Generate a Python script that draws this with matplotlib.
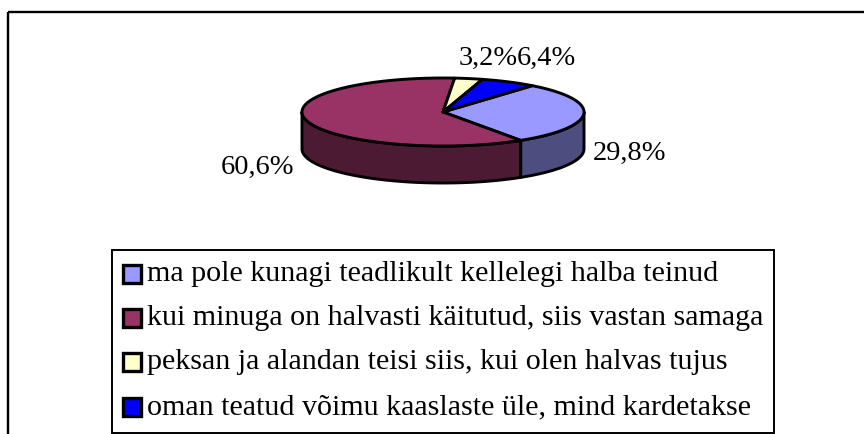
import numpy as np
import matplotlib
matplotlib.use("Agg")
import matplotlib.pyplot as plt
from matplotlib.patches import Polygon, Rectangle

categories = [
    "ma pole kunagi teadlikult kellelegi halba teinud",
    "kui minuga on halvasti käitutud, siis vastan samaga",
    "peksan ja alandan teisi siis, kui olen halvas tujus",
    "oman teatud võimu kaaslaste üle, mind kardetakse",
]
values = [29.8, 60.6, 3.2, 6.4]
top_colors = ["#9999FF", "#993366", "#FFFFCC", "#0000FF"]
side_colors = ["#4D4D80", "#4D1A33", "#80806A", "#000080"]

FONT = ["Liberation Serif", "DejaVu Serif"]

fig = plt.figure(figsize=(8.64, 4.34), dpi=100)
ax = fig.add_axes([0, 0, 1, 1])
ax.set_xlim(0, 864)
ax.set_ylim(434, 0)
ax.axis("off")

# outer chart frame (cut by image edges at right/bottom)
ax.add_patch(Rectangle((7.5, 12), 900, 500, fill=False, edgecolor="black", lw=1.7))

# 3D pie geometry (pixel coordinates)
cx, cy, a, b, depth = 443, 112, 141, 34, 37
start = 50.7
lw = 2.1

vals = np.array(values, dtype=float)
frac = vals / vals.sum()
cum = np.concatenate([[0], np.cumsum(frac)])
bounds = start - cum * 360.0  # clockwise


def pt(theta, dy=0.0):
    t = np.deg2rad(theta)
    return cx + a * np.cos(t), cy - b * np.sin(t) + dy


# side walls (front half only)
for i in range(len(vals)):
    t0, t1 = bounds[i], bounds[i + 1]  # t0 > t1
    lo, hi = t1, t0
    for k in (-2, -1, 0, 1):
        flo, fhi = -180 + 360 * k, 0 + 360 * k
        s, e = max(lo, flo), min(hi, fhi)
        if e - s > 1e-6:
            th = np.linspace(s, e, 120)
            top = [pt(t) for t in th]
            bot = [pt(t, depth) for t in th[::-1]]
            ax.add_patch(Polygon(top + bot, closed=True, facecolor=side_colors[i],
                                 edgecolor="black", lw=lw, joinstyle="round"))

# top faces
for i in range(len(vals)):
    t0, t1 = bounds[i], bounds[i + 1]
    th = np.linspace(t0, t1, 200)
    verts = [(cx, cy)] + [pt(t) for t in th]
    ax.add_patch(Polygon(verts, closed=True, facecolor=top_colors[i],
                         edgecolor="black", lw=lw, joinstyle="round"))

# data labels
label_pos = [(629, 153), (258, 167), (488, 58), (546, 58)]
for v, (x, y) in zip(values, label_pos):
    ax.text(x, y, f"{v:.1f}".replace(".", ",") + "%", ha="center", va="center",
            fontsize=20.5, family=FONT, color="black")

# legend
ax.add_patch(Rectangle((112, 250), 662, 183, fill=False, edgecolor="black", lw=1.4))
row_y = [274, 318, 362, 407]
for cat, col, y in zip(categories, top_colors, row_y):
    ax.add_patch(Rectangle((122.5, y - 9), 18, 18, facecolor=col, edgecolor="black", lw=2.4))
    ax.text(147, y, cat, ha="left", va="center", fontsize=21.6, family=FONT, color="black")

fig.savefig("out.png", dpi=100)
